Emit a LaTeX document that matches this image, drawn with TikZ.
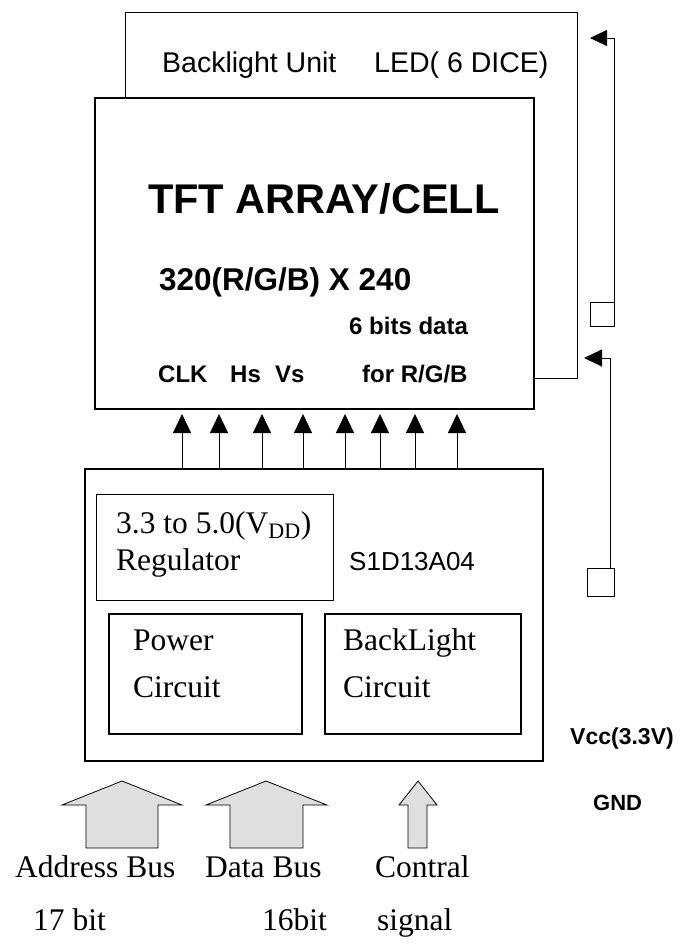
\documentclass[tikz,border=0pt]{standalone}
\usepackage{fontspec}
\setmainfont{Liberation Serif}
\newfontfamily\arial{Liberation Sans}
\usetikzlibrary{arrows.meta}

\tikzset{
  box/.style={draw, rectangle, inner sep=0pt},
  lbl/.style={anchor=base west, inner sep=0pt},
  serif/.style={lbl, font=\fontsize{31.5}{34}\selectfont},
  small/.style={lbl, font=\arial\bfseries\fontsize{24}{26}\selectfont},
  sig/.style={-{Triangle[length=19pt,width=18pt]}, line width=1pt, shorten >=4pt},
  ledline/.style={-{Triangle[length=17pt,width=16pt]}, line width=1pt},
  fat/.style={draw, line width=0.8pt, fill=gray!25}
}

\begin{document}
\begin{tikzpicture}[x=1pt, y=-1pt]
\useasboundingbox (0,0) rectangle (680,945);

% Backlight unit frame behind the panel
\draw[line width=1pt] (125,98) -- (125,12) -- (577,12) -- (577,378) -- (534,378);
\node[lbl, font=\arial\fontsize{28.5}{30}\selectfont] (blu) at (162,72) {Backlight Unit};
\node[lbl, font=\arial\fontsize{28.5}{30}\selectfont] (led) at (374,72) {LED( 6 DICE)};

% TFT panel box
\node[box, line width=2pt, minimum width=439pt, minimum height=311pt] (tft) at (314.5,253.5) {};
\node[lbl, font=\arial\bfseries\fontsize{41.5}{44}\selectfont] (title) at (148,213) {TFT ARRAY/CELL};
\node[lbl, font=\arial\bfseries\fontsize{31.5}{34}\selectfont] (res) at (159,290) {320(R/G/B) X 240};
\node[small] (bits) at (349,334) {6 bits data};
\node[small] (clk) at (158,382) {CLK};
\node[small] (hs) at (230,382) {Hs};
\node[small] (vs) at (275,382) {Vs};
\node[small] (rgb) at (362,382) {for R/G/B};

% Controller box
\node[box, line width=1.6pt, minimum width=458pt, minimum height=292pt] (ctrl) at (314,615) {};
\node[box, line width=1pt, minimum width=237pt, minimum height=106pt] (reg) at (214.5,547) {};
\node[serif] (regtxt) at (116,533) {3.3 to 5.0(V\textsubscript{DD})};
\node[serif] (regname) at (116,570) {Regulator};
\node[lbl, font=\arial\fontsize{26}{28}\selectfont] (chip) at (349,570) {S1D13A04};
\node[box, line width=2pt, minimum width=193pt, minimum height=120pt] (pwr) at (205.5,674) {};
\node[serif] (pwr1) at (133,650) {Power};
\node[serif] (pwr2) at (133,697) {Circuit};
\node[box, line width=2pt, minimum width=196pt, minimum height=120pt] (bl) at (423,674) {};
\node[serif] (bl1) at (343,650) {BackLight};
\node[serif] (bl2) at (343,697) {Circuit};

% Signals up to the panel
\foreach \x [count=\i] in {182,219,262,303,345,380,415,457} {
  \coordinate (s\i) at (\x,0);
  \draw[sig] (ctrl.north -| s\i) -- (tft.south -| s\i);
}

% LED feed lines
\node[box, line width=1pt, minimum size=24pt] (sq1) at (602,314) {};
\node[box, line width=1pt, minimum width=27pt, minimum height=28pt] (sq2) at (600.5,582) {};
\coordinate (led1) at (590,38);
\coordinate (led2) at (584,358);
\coordinate (col2) at (610,0);
\draw[ledline] (sq1.north east) |- (led1);
\draw[ledline, -{Triangle[length=18pt,width=17pt]}] (sq2.north -| col2) |- (led2);

% Supply labels
\node[lbl, font=\arial\bfseries\fontsize{23}{25}\selectfont] (vcc) at (570,744) {Vcc(3.3V)};
\node[lbl, font=\arial\bfseries\fontsize{22}{24}\selectfont] (gnd) at (593,810) {GND};

% Bus inputs
\draw[fat] (122,781) -- (182,805) -- (158,805) -- (158,848) -- (86,848) -- (86,805) -- (62,805) -- cycle;
\draw[fat] (266,781) -- (327,805) -- (303,805) -- (303,848) -- (230,848) -- (230,805) -- (206,805) -- cycle;
\draw[fat] (418,781) -- (437,805) -- (427,805) -- (427,848) -- (408,848) -- (408,805) -- (399,805) -- cycle;
\node[serif] (addr) at (15,877) {Address Bus};
\node[serif] (data) at (205,877) {Data Bus};
\node[serif] (ctl) at (375,877) {Contral};
\node[serif] (addrw) at (33,930) {17 bit};
\node[serif] (dataw) at (262,930) {16bit};
\node[serif] (ctlw) at (377,930) {signal};
\end{tikzpicture}
\end{document}
